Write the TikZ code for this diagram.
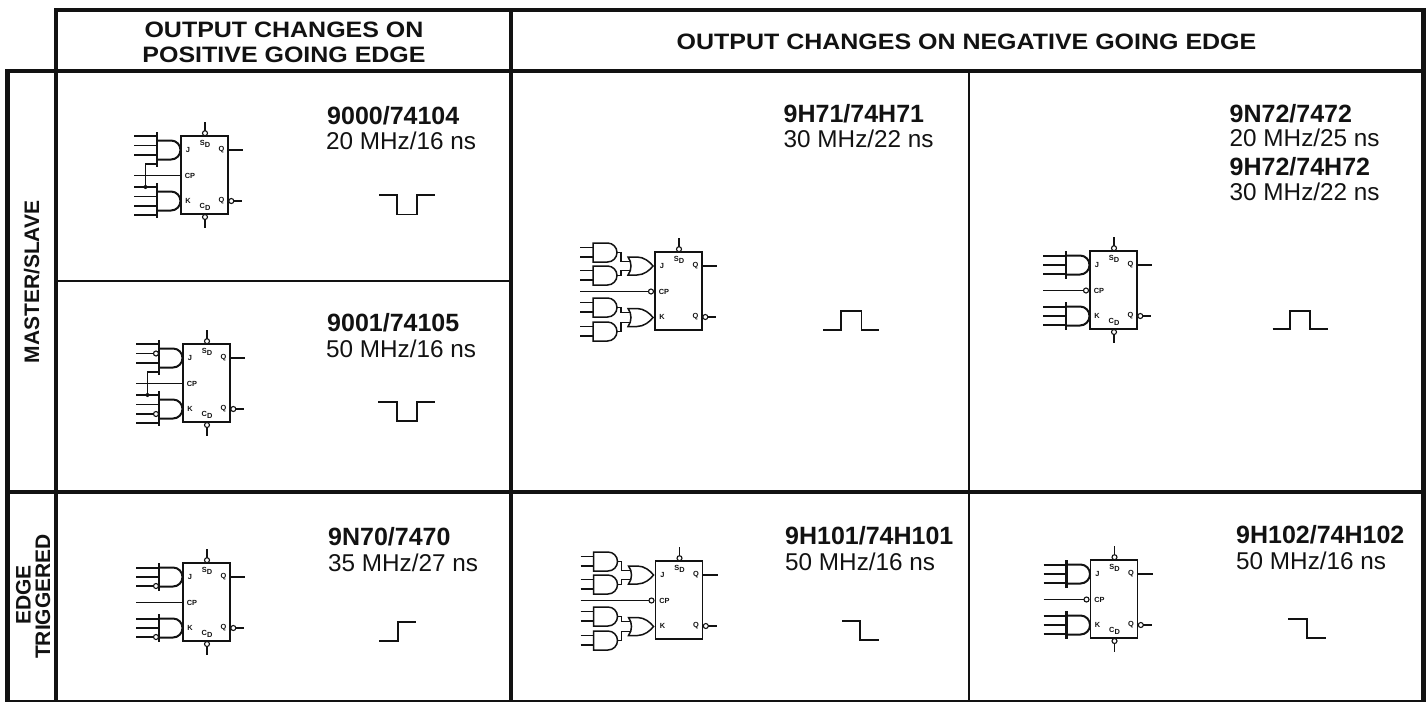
\documentclass[tikz,border=0pt]{standalone}
\usepackage{fontspec}
\setmainfont{Liberation Sans}
\newfontfamily\hdrfont[FakeStretch=1.12]{Liberation Sans}
\definecolor{ink}{gray}{0.07}
\newcommand{\chipname}[1]{{\fontsize{25}{25}\selectfont\bfseries #1}}
\newcommand{\chipspec}[1]{{\fontsize{24.3}{24.3}\selectfont #1}}
\tikzset{
  frame/.style={line width=4.6pt,draw=ink},
  framethin/.style={line width=1.6pt,draw=ink},
  hdr/.style={inner sep=0pt,anchor=base,text=ink,font=\hdrfont\bfseries\fontsize{22.3}{22.3}\selectfont},
  sidelbl/.style={inner sep=0pt,anchor=base,rotate=90,text=ink,font=\bfseries\fontsize{21}{21}\selectfont},
  chip/.style={inner sep=0pt,anchor=base west,text=ink},
  ffbox/.style={draw=ink,line width=1.6pt,minimum width=47pt,minimum height=78pt,inner sep=0pt,outer sep=0pt,anchor=north west},
  wire/.style={draw=ink,line width=1.1pt},
  gateline/.style={draw=ink,line width=2pt},
  gbar/.style={draw=ink,line width=2.3pt},
  thingate/.style={draw=ink,line width=1.5pt},
  bub/.style={circle,draw=ink,fill=white,line width=1.1pt,minimum size=5pt,inner sep=0pt,outer sep=0pt},
  pinlbl/.style={inner sep=0pt,text=ink,font=\bfseries\fontsize{7.4}{7.4}\selectfont},
  pulse/.style={draw=ink,line width=1.5pt}
}
% flip-flop box, pins and set input; origin = box top-left
\newcommand{\ffcore}[1]{
  \node[ffbox] (#1) at (0,0) {};
  \node[pinlbl] (#1J) at (7,14) {J};
  \node[pinlbl] (#1CP) at (9,39.5) {CP};
  \node[pinlbl] (#1K) at (7,65) {K};
  \node[pinlbl] (#1Q) at (40.5,14) {Q};
  \node[pinlbl] (#1Qn) at (40.5,65) {Q};
  \node[pinlbl] (#1S) at (24,8) {S\raisebox{-1.5pt}{D}};
  \node[bub] (#1sb) at (24,-2.8) {};
  \node[bub] (#1qb) at (50.3,65) {};
  \coordinate (#1st) at (24,-14);
  \coordinate (#1qe) at (62,14);
  \coordinate (#1qo) at (47,14);
  \coordinate (#1ne) at (61,65);
  \draw[wire] (#1sb) -- (#1st);
  \draw[wire] (#1qo) -- (#1qe);
  \draw[wire] (#1qb) -- (#1ne);
}
\newcommand{\ffclear}[1]{
  \node[pinlbl] (#1C) at (24,71) {C\raisebox{-1.5pt}{D}};
  \node[bub] (#1cb) at (24,81) {};
  \coordinate (#1ce) at (24,92);
  \draw[wire] (#1cb) -- (#1ce);
}
% AND gate with long bar: centre #1, bar from #2 to #3
\newcommand{\barand}[3]{
  \draw[gateline] (-24,#1-9.5) -- (-10,#1-9.5) .. controls (-4.5,#1-9.5) and (-0.5,#1-5) .. (-0.5,#1)
     .. controls (-0.5,#1+5) and (-4.5,#1+9.5) .. (-10,#1+9.5) -- (-24,#1+9.5);
  \draw[gbar] (-24,#2) -- (-24,#3);
}
% free-standing AND gate, tip at x=-38, centre #1
\newcommand{\smalland}[1]{
  \draw[thingate] (-62,#1-9.5) -- (-47.5,#1-9.5) .. controls (-42,#1-9.5) and (-38,#1-5) .. (-38,#1)
     .. controls (-38,#1+5) and (-42,#1+9.5) .. (-47.5,#1+9.5) -- (-62,#1+9.5) -- cycle;
  \draw[wire] (-75,#1-5) -- (-62,#1-5);
  \draw[wire] (-75,#1+4.5) -- (-62,#1+4.5);
}
% OR gate centre #1
\newcommand{\smallor}[1]{
  \draw[thingate] (-27,#1-9) -- (-18,#1-9) .. controls (-11,#1-9) and (-5,#1-4) .. (-2,#1)
     .. controls (-5,#1+4) and (-11,#1+9) .. (-18,#1+9) -- (-27,#1+9)
     .. controls (-23,#1+4) and (-23,#1-4) .. (-27,#1-9) -- cycle;
}
% master/slave with cross-coupled clock
\newcommand{\ffms}[3]{
\begin{scope}[shift={(#2,#3)}]
  \ffcore{#1}\ffclear{#1}
  \barand{14}{-4}{31}\barand{65}{47}{82}
  \draw[wire] (-47,39.5) -- (0,39.5);
  \draw[wire] (-24,28) -- (-35.5,28) -- (-35.5,51);
  \fill[ink] (-35.5,51) circle (2pt);
  \foreach \yy in {51,79}{\draw[wire] (-47,\yy) -- (-24,\yy);}
  \draw[wire] (-47,0) -- (-24,0);
  \draw[wire] (-47,9.5) -- (-24,9.5);
  \draw[wire] (-47,19) -- (-24,19);
  \draw[wire] (-47,60.5) -- (-24,60.5);
  \draw[wire] (-47,70) -- (-24,70);
\end{scope}}
\newcommand{\fforg}[3]{
\begin{scope}[shift={(#2,#3)}]
  \ffcore{#1}
  \smalland{0.5}\smalland{23.5}\smalland{55.5}\smalland{79.5}
  \smallor{14}\smallor{65.5}
  \draw[wire] (-38,0.5) -- (-34,0.5) -- (-34,9.5) -- (-25,9.5);
  \draw[wire] (-38,23.5) -- (-34,23.5) -- (-34,18.5) -- (-25,18.5);
  \draw[wire] (-38,55.5) -- (-34,55.5) -- (-34,60.5) -- (-25,60.5);
  \draw[wire] (-38,79.5) -- (-34,79.5) -- (-34,70.5) -- (-25,70.5);
  \node[bub] (#1cp) at (-4,39.5) {};
  \coordinate (#1ci) at (-75,39.5);
  \draw[wire] (#1ci) -- (#1cp);
\end{scope}}
\newcommand{\ffplain}[3]{
\begin{scope}[shift={(#2,#3)}]
  \ffcore{#1}\ffclear{#1}
  \barand{14}{0}{28}\barand{65}{51}{79}
  \foreach \yy in {5,14,23,56,65,74}{\draw[wire] (-47,\yy) -- (-24,\yy);}
  \node[bub] (#1cp) at (-4,39.5) {};
  \coordinate (#1ci) at (-47,39.5);
  \draw[wire] (#1ci) -- (#1cp);
\end{scope}}
\begin{document}
\begin{tikzpicture}[x=1pt,y=-1pt]
\useasboundingbox (0,0) rectangle (1426,702);
% frame
\draw[frame] (54,10) -- (1426,10);
\draw[frame] (5,71) -- (1426,71);
\draw[frame] (5,492) -- (1426,492);
\draw[frame] (7.5,69) -- (7.5,702);
\draw[frame] (56,8) -- (56,702);
\draw[frame] (511,8) -- (511,702);
\draw[frame] (1423.5,8) -- (1423.5,702);
\draw[line width=2pt,draw=ink] (5,700.5) -- (1426,700.5);
\draw[framethin] (58,281) -- (509,281);
\draw[framethin] (969,72) -- (969,700);
% headers
\node[hdr] (h1a) at (284,37) {OUTPUT CHANGES ON};
\node[hdr] (h1b) at (284,62) {POSITIVE GOING EDGE};
\node[hdr] (h2) at (966.5,49) {OUTPUT CHANGES ON NEGATIVE GOING EDGE};
\node[sidelbl] (s1) at (39,282) {MASTER/SLAVE};
\node[sidelbl] (s2) at (30.5,595) {EDGE};
\node[sidelbl] (s3) at (50,596.5) {TRIGGERED};
% parts
\node[chip] (p1a) at (327,124) {\chipname{9000/74104}};
\node[chip] (p1b) at (326,149) {\chipspec{20 MHz/16 ns}};
\node[chip] (p2a) at (327,331) {\chipname{9001/74105}};
\node[chip] (p2b) at (326,357) {\chipspec{50 MHz/16 ns}};
\node[chip] (p3a) at (328,545) {\chipname{9N70/7470}};
\node[chip] (p3b) at (328,571) {\chipspec{35 MHz/27 ns}};
\node[chip] (p4a) at (783.5,122) {\chipname{9H71/74H71}};
\node[chip] (p4b) at (783.5,147) {\chipspec{30 MHz/22 ns}};
\node[chip] (p5a) at (1229.5,122) {\chipname{9N72/7472}};
\node[chip] (p5b) at (1229.5,146) {\chipspec{20 MHz/25 ns}};
\node[chip] (p5c) at (1229.5,175) {\chipname{9H72/74H72}};
\node[chip] (p5d) at (1229.5,200) {\chipspec{30 MHz/22 ns}};
\node[chip] (p6a) at (785,544) {\chipname{9H101/74H101}};
\node[chip] (p6b) at (785,570.5) {\chipspec{50 MHz/16 ns}};
\node[chip] (p7a) at (1236,543) {\chipname{9H102/74H102}};
\node[chip] (p7b) at (1236,569) {\chipspec{50 MHz/16 ns}};
% flip-flops
\ffms{fa}{181}{136}
\ffms{fb}{183}{344}
\begin{scope}[shift={(183,563)}]
  \ffcore{fc}\ffclear{fc}
  \barand{14}{0}{28}\barand{65}{51}{79}
  \foreach \yy in {5,14,56,65}{\draw[wire] (-47,\yy) -- (-24,\yy);}
  \draw[wire] (-47,39.5) -- (0,39.5);
  \node[bub] (fcb1) at (-27,23) {};
  \node[bub] (fcb2) at (-27,74) {};
  \coordinate (fci1) at (-47,23);
  \coordinate (fci2) at (-47,74);
  \draw[wire] (fci1) -- (fcb1);
  \draw[wire] (fci2) -- (fcb2);
\end{scope}
% bubbles on the inputs of 9001
\begin{scope}[shift={(183,344)}]
  \node[bub] (fbb1) at (-27,9.5) {};
  \node[bub] (fbb2) at (-27,70) {};
\end{scope}
\fforg{fd}{655}{252}
\fforg{fe}{655.5}{561}
\ffplain{ff}{1090}{251}
\ffplain{fg}{1090.5}{560}
% waveforms
\draw[pulse] (379,195) -- (397,195) -- (397,214.5) -- (417,214.5) -- (417,195) -- (435,195);
\draw[pulse] (378,402) -- (397,402) -- (397,421) -- (417,421) -- (417,402) -- (435,402);
\draw[pulse] (379,641) -- (398,641) -- (398,622) -- (416,622);
\draw[pulse] (823,330) -- (841,330) -- (841,311) -- (861.5,311) -- (861.5,330) -- (879,330);
\draw[pulse] (1272.5,329) -- (1290,329) -- (1290,311) -- (1310,311) -- (1310,329) -- (1328,329);
\draw[pulse] (842,621) -- (860,621) -- (860,640) -- (878.5,640);
\draw[pulse] (1288,619) -- (1307,619) -- (1307,638) -- (1326,638);
\end{tikzpicture}
\end{document}
